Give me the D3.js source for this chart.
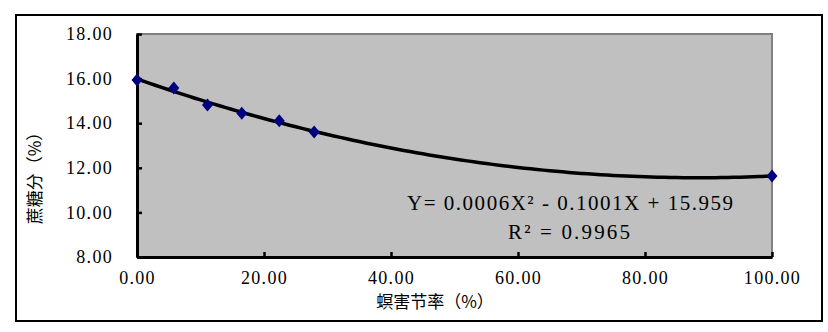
<!DOCTYPE html>
<html><head><meta charset="utf-8">
<script src="https://cdn.jsdelivr.net/npm/d3@7"></script>
<style>body{margin:0;background:#fff}</style>
</head><body>
<svg id="chart" width="828" height="332"></svg>
<script>
// Data
const xValues = [0, 5.8, 11.1, 16.5, 22.4, 27.9, 100];
const yValues = [15.94, 15.58, 14.82, 14.45, 14.11, 13.61, 11.63];
const xTicks = [0, 20, 40, 60, 80, 100];
const yTicks = [8, 10, 12, 14, 16, 18];
const xTitle = "螟害节率（%）";
const yTitle = "蔗糖分（%）";
const eqText = "Y= 0.0006X² - 0.1001X + 15.959";
const r2Text = "R² = 0.9965";

const svg = d3.select("#chart");
const m = {l:137, r:772, t:34, b:257};
const x = d3.scaleLinear().domain([0,100]).range([m.l, m.r]);
const y = d3.scaleLinear().domain([8,18]).range([m.b, m.t]);
const serif = "'Liberation Serif','Times New Roman',serif";

// outer border
svg.append("rect").attr("x",16).attr("y",15).attr("width",806).attr("height",306)
  .attr("fill","#fff").attr("stroke","#000").attr("stroke-width",2);

// plot area
svg.append("rect").attr("x",m.l).attr("y",m.t).attr("width",m.r-m.l).attr("height",m.b-m.t)
  .attr("fill","#c0c0c0").attr("stroke","#808080").attr("stroke-width",2);

// axes
const xAxis = d3.axisBottom(x).tickValues(xTicks).tickSizeInner(-5).tickSizeOuter(0).tickFormat(d3.format(".2f")).tickPadding(14);
const gx = svg.append("g").attr("transform",`translate(0,${m.b})`).call(xAxis);
const yAxis = d3.axisLeft(y).tickValues(yTicks).tickSizeInner(-5).tickSizeOuter(0).tickFormat(d3.format(".2f")).tickPadding(24);
const gy = svg.append("g").attr("transform",`translate(${m.l},0)`).call(yAxis);
[gx,gy].forEach(g=>{
  g.select(".domain").attr("stroke","#000").attr("stroke-width",3);
  g.selectAll(".tick line").attr("stroke","#000").attr("stroke-width",2.5);
  g.selectAll(".tick text").attr("font-family",serif).attr("font-size",18).attr("fill","#000")
    .attr("letter-spacing","1.3px");
});
gx.selectAll(".tick text").attr("dy","0.71em");

// quadratic least-squares trendline fitted to data
function fitQuad(xs, ys){
  let S=[0,0,0,0,0], T=[0,0,0];
  xs.forEach((xi,i)=>{ for(let k=0;k<5;k++) S[k]+=Math.pow(xi,k); for(let k=0;k<3;k++) T[k]+=ys[i]*Math.pow(xi,k); });
  const A=[[S[0],S[1],S[2],T[0]],[S[1],S[2],S[3],T[1]],[S[2],S[3],S[4],T[2]]];
  for(let i=0;i<3;i++){ for(let j=i+1;j<3;j++){ const f=A[j][i]/A[i][i]; for(let k=i;k<4;k++) A[j][k]-=f*A[i][k]; } }
  const c=[0,0,0];
  for(let i=2;i>=0;i--){ let s=A[i][3]; for(let k=i+1;k<3;k++) s-=A[i][k]*c[k]; c[i]=s/A[i][i]; }
  return c;
}
const c = fitQuad(xValues, yValues);
const curve = d3.range(0, 100.01, 1).map(v=>[v, c[0]+c[1]*v+c[2]*v*v]);
svg.append("path").datum(curve)
  .attr("d", d3.line().x(d=>x(d[0])).y(d=>y(d[1])))
  .attr("fill","none").attr("stroke","#000").attr("stroke-width",3.5);

// markers
svg.selectAll(".pt").data(xValues.map((v,i)=>[v,yValues[i]])).enter().append("path")
  .attr("transform",d=>`translate(${x(d[0])},${y(d[1])})`)
  .attr("d","M0,-6.5L5.5,0L0,6.5L-5.5,0Z").attr("fill","#000080");

// equation text
svg.append("text").attr("x",407).attr("y",210).attr("font-family",serif).attr("font-size",21)
  .attr("textLength",326).attr("lengthAdjust","spacing").text(eqText);
svg.append("text").attr("x",508).attr("y",239).attr("font-family",serif).attr("font-size",21)
  .attr("textLength",122).attr("lengthAdjust","spacing").text(r2Text);

// axis titles
svg.append("text").attr("x",435).attr("y",308).attr("text-anchor","middle")
  .attr("font-family","'Noto Sans CJK SC',sans-serif").attr("font-size",17).text(xTitle);
svg.append("text").attr("transform","translate(41,174) rotate(-90)").attr("text-anchor","middle")
  .attr("font-family","'Noto Sans CJK SC',sans-serif").attr("font-size",17).text(yTitle);
</script>
</body></html>
